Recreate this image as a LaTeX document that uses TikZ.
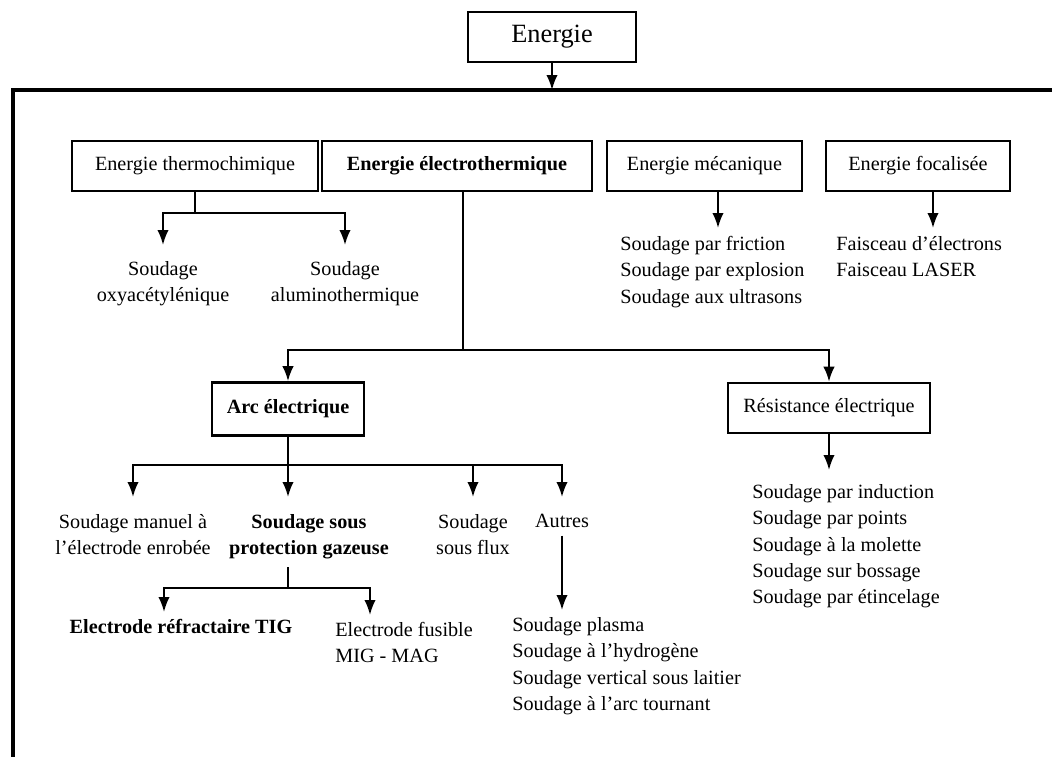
\documentclass[tikz,border=0pt]{standalone}
\usepackage{fontspec}
\setmainfont{Liberation Serif}
\usepackage{tikz}
\usetikzlibrary{arrows.meta,positioning,calc}
\tikzset{
  box/.style={draw, line width=1.5pt, inner sep=2pt, font=\fontsize{11.5}{14}\selectfont},
  boldbox/.style={box, font=\fontsize{11.5}{14}\selectfont\bfseries},
  txt/.style={inner sep=0pt, align=center, anchor=north, font=\fontsize{11.5}{15}\selectfont},
  boldtxt/.style={txt, font=\fontsize{11.5}{15}\selectfont\bfseries},
  lst/.style={inner sep=0pt, align=left, anchor=north west, font=\fontsize{11.5}{15}\selectfont},
  wire/.style={line width=1.2pt},
  arr/.style={wire, -{Latex[length=3mm,width=2.3mm]}},
  frame/.style={line width=2.6pt},
}

\begin{document}
\begin{tikzpicture}[x=0.02cm, y=-0.02cm]
    \useasboundingbox (0,0) rectangle (1052,757);
    \draw[frame] (1052,90) -| (13,757);
    \coordinate (ftop) at (552,90);

    \node[box, minimum width=3.36cm, minimum height=1cm, font=\fontsize{15}{18}\selectfont] (energie) at (552,37) {Energie};
    \draw[arr] (energie.south) -- (ftop);

    \node[box, minimum width=4.92cm, minimum height=1cm] (thermo) at (195,166) {Energie thermochimique};
    \node[boldbox, minimum width=5.4cm, minimum height=1cm] (electro) at (457,166) {Energie électrothermique};
    \node[box, minimum width=3.9cm, minimum height=1cm] (meca) at (704.5,166) {Energie mécanique};
    \node[box, minimum width=3.68cm, minimum height=1cm] (foc) at (918,166) {Energie focalisée};

    \node[txt] (oxy) at (163,261) {Soudage\\oxyacétylénique};
    \node[txt] (alu) at (345,261) {Soudage\\aluminothermique};
    \coordinate (tj) at (thermo.south |- 0,213);
    \draw[wire] (thermo.south) -- (tj);
    \draw[arr, shorten >=3.2mm] (tj) -| (oxy.north);
    \draw[arr, shorten >=3.2mm] (tj) -| (alu.north);

    \node[lst] (mlist) at (620,236) {Soudage par friction\\Soudage par explosion\\Soudage aux ultrasons};
    \node[lst] (flist) at (836,236) {Faisceau d’électrons\\Faisceau LASER};
    \coordinate (ma) at ([xshift=2.7mm]meca.south);
    \coordinate (fa) at ([xshift=3mm]foc.south);
    \draw[arr, shorten >=1.6mm] (ma) -- (ma |- mlist.north);
    \draw[arr, shorten >=1.6mm] (fa) -- (fa |- flist.north);

    \node[boldbox, minimum width=3.04cm, minimum height=1.06cm] (arc) at (288,409) {Arc électrique};
    \node[box, minimum width=4.04cm, minimum height=1cm] (res) at (829,408) {Résistance électrique};
    \coordinate (ej) at (463,350);
    \draw[wire] (ej |- electro.south) -- (ej);
    \draw[arr] (ej) -| (arc.north);
    \draw[arr] (ej) -| (res.north);

    \node[lst] (rlist) at (752,484) {Soudage par induction\\Soudage par points\\Soudage à la molette\\Soudage sur bossage\\Soudage par étincelage};
    \draw[arr, shorten >=2.8mm] (res.south) -- (res.south |- rlist.north);

    \node[txt] (manuel) at (133,514) {Soudage manuel à\\l’électrode enrobée};
    \node[boldtxt] (gaz) at (309,514) {Soudage sous\\protection gazeuse};
    \node[txt] (flux) at (473,514) {Soudage\\sous flux};
    \node[txt] (autres) at (562,514) {Autres};
    \coordinate (aj) at (arc.south |- 0,465);
    \draw[wire] (arc.south) -- (aj);
    \draw[arr, shorten >=3.4mm] (aj) -| (manuel.north);
    \draw[arr, shorten >=3.4mm] (aj) -- (aj |- gaz.north);
    \draw[arr, shorten >=3.4mm] (aj) -| (flux.north);
    \draw[arr, shorten >=3.4mm] (aj) -| (autres.north);

    \node[boldtxt] (tig) at (181,619) {Electrode réfractaire TIG};
    \node[lst] (fus) at (335,622) {Electrode fusible\\MIG - MAG};
    \coordinate (gj) at (aj |- 0,588);
    \draw[wire, shorten <=1.5mm] (aj |- gaz.south) -- (gj);
    \draw[arr, shorten >=1.4mm] (gj) -| ([xshift=-3.4mm]tig.north);
    \draw[arr, shorten >=1.4mm] (gj) -| ([xshift=7mm]fus.north west);

    \node[lst] (plist) at (512,617) {Soudage plasma\\Soudage à l’hydrogène\\Soudage vertical sous laitier\\Soudage à l’arc tournant};
    \draw[arr, shorten <=1.5mm, shorten >=1.4mm] (autres.south) -- (autres.south |- plist.north);
  \end{tikzpicture}
\end{document}
